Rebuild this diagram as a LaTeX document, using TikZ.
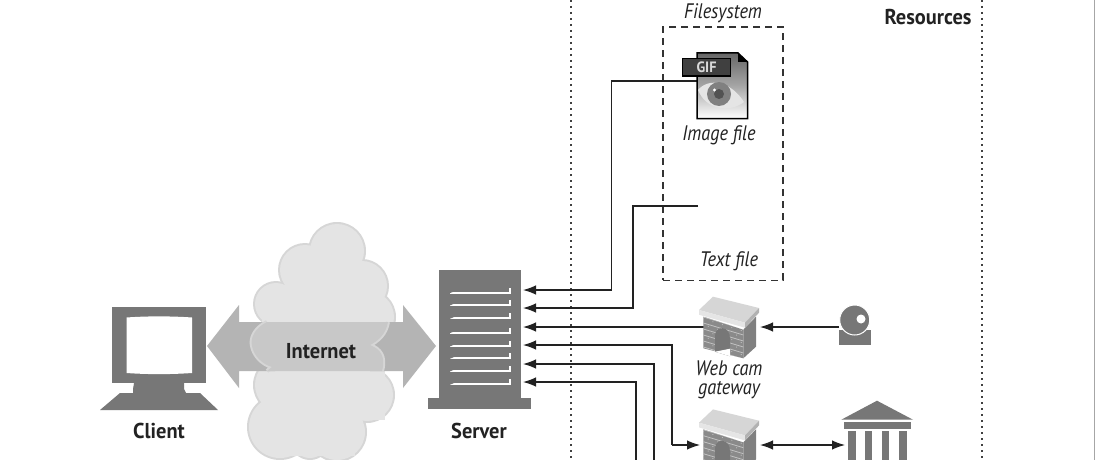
\documentclass[tikz,border=0pt]{standalone}
\usepackage{fontspec}
\setmainfont[FakeStretch=0.87,BoldFeatures={FakeStretch=0.95}]{PT Sans}
\usetikzlibrary{arrows.meta,shapes.geometric}
\definecolor{ink}{HTML}{222222}
\definecolor{iconGrey}{HTML}{777777}
\definecolor{cloudFill}{HTML}{E4E4E4}
\definecolor{cloudRim}{HTML}{D6D6D6}
\definecolor{bandFill}{HTML}{C8C8C8}
\definecolor{fatArrow}{HTML}{B4B4B4}
\tikzset{
  lbl/.style={text=ink,font=\fontsize{21.5}{22}\selectfont\bfseries,inner sep=0pt},
  captxt/.style={text=ink,font=\fontsize{21}{19}\selectfont\itshape,inner sep=0pt,align=center},
  wire/.style={draw=ink,line width=1.25pt},
  tipped/.style={wire,-{Latex[length=13pt,width=9.5pt]}},
  bothtipped/.style={wire,{Latex[length=13pt,width=9.5pt]}-{Latex[length=13pt,width=9.5pt]}},
  dotline/.style={draw=black!75,line width=2pt,dash pattern=on 2.2pt off 3.8pt},
  slotline/.style={draw=white,line width=2.2pt},
  gateway/.pic={
    \fill[black!46] (4.3,20) -- (44.3,33) -- (44.3,61.6) -- (4.3,51.6) -- cycle;
    \fill[black!50] (44.3,33) -- (57,20) -- (57,50) -- (44.3,61.6) -- cycle;
    \begin{scope}
      \clip (4.3,20) -- (44.3,33) -- (44.3,61.6) -- (4.3,51.6) -- cycle;
      \foreach \k in {0,...,7} {
        \draw[black!24,line width=.8pt] (0,{19+6*\k}) -- (50,{34+6*\k});
      }
      \foreach \k in {0,2,4,6} {
        \draw[black!24,line width=.8pt,dash pattern=on .9pt off 9pt] (4,{22+6*\k}) -- (46,{35+6*\k});
      }
      \foreach \k in {1,3,5} {
        \draw[black!24,line width=.8pt,dash pattern=on .9pt off 9pt,dash phase=-5pt] (4,{22+6*\k}) -- (46,{35+6*\k});
      }
    \end{scope}
    \fill[iconGrey] (16,55) -- (16,39) .. controls (16,33) and (21,31) .. (24,31.5) .. controls (28,32) and (31,36) .. (31,42) -- (31,59.5) -- cycle;
    \fill[white] (16,55) -- (31,59.5) -- (31,52) -- cycle;
    \fill[black!16] (0,13.3) -- (14,0) -- (60,11.3) -- (46,26) -- cycle;
    \fill[black!10] (0,13.3) -- (46,26) -- (46,31) -- (0,18) -- cycle;
    \fill[black!30] (46,26) -- (60,11.3) -- (60,16) -- (46,31) -- cycle;
  }
}
\begin{document}
\begin{tikzpicture}[x=1pt,y=-1pt]
\useasboundingbox (0,0) rectangle (1100,460);
\clip (0,0) rectangle (1100,460);
\fill[white] (0,0) rectangle (1100,460);

% separators
\coordinate (sepAtop) at (570.5,0); \coordinate (sepAbot) at (570.5,460);
\coordinate (sepBtop) at (982,0);   \coordinate (sepBbot) at (982,460);
\coordinate (edgeTop) at (1094.3,0); \coordinate (edgeBot) at (1094.3,460);
\draw[dotline] (sepAtop) -- (sepAbot);
\draw[dotline] (sepBtop) -- (sepBbot);
\draw[black!35,line width=1.6pt] (edgeTop) -- (edgeBot);

% cloud
\foreach \cx/\cy/\r in {337/251/29,305/270/27,362/286/27,368/317/28,276/304/23,282/385/29,280/427/33,367/395/28,337/432/30,310/440/20} {
  \fill[cloudRim] (\cx,\cy) circle ({\r});
}
\foreach \cx/\cy/\r in {337/251/29,305/270/27,362/286/27,368/317/28,276/304/23,282/385/29,280/427/33,367/395/28,337/432/30,310/440/20} {
  \fill[cloudFill] (\cx,\cy) circle ({\r-2});
}
\fill[cloudFill] (285,255) rectangle (355,456);
\fill[cloudFill] (262,300) rectangle (385,420);

% fat arrows
\fill[fatArrow] (207,346) -- (239,305) -- (239,322) -- (275,322) -- (275,371) -- (239,371) -- (239,388) -- cycle;
\fill[fatArrow] (436,346) -- (403,305) -- (403,322) -- (370,322) -- (370,371) -- (403,371) -- (403,388) -- cycle;

% band
\draw[cloudRim,line width=4pt] (267,322) .. controls (255,328) and (250,338) .. (252,346) .. controls (254,356) and (262,364) .. (272,367) -- (267,371);
\draw[cloudRim,line width=4pt] (388,322) .. controls (386,334) and (378,341) .. (370,345) .. controls (380,349) and (386,356) .. (382,371);
\fill[bandFill] (267,322) .. controls (255,328) and (250,338) .. (252,346) .. controls (254,356) and (262,364) .. (272,367) -- (267,371) -- (382,371) .. controls (386,356) and (380,349) .. (370,345) .. controls (378,341) and (386,334) .. (388,322) -- cycle;
\node[lbl] (internet) at (321,351) {Internet};

% client
\fill[iconGrey] (100,410) -- (120,393) -- (133,393) -- (133,389) -- (134,383) -- (184,383) -- (184,389) -- (186,393) -- (200,393) -- (218,410) -- cycle;
\node[fill=iconGrey,minimum width=94pt,minimum height=76pt,inner sep=0pt] (client) at (159,345) {};
\fill[white] (126.5,317.5) .. controls (148,316) and (170,316) .. (192,317.5) -- (192,373) .. controls (170,374.5) and (148,374.5) .. (126.5,373) -- cycle;
\node[lbl] (clientlabel) at (159,431) {Client};

% server
\node[fill=iconGrey,minimum width=103pt,minimum height=11pt,inner sep=0pt] (serverbase) at (479.5,403.5) {};
\node[fill=iconGrey,minimum width=82pt,minimum height=130pt,inner sep=0pt] (server) at (479.7,335) {};
\foreach \sy in {292.7,305,318.3,332.7,346,358.3,371,384.3} {
  \draw[slotline] (450,\sy) -- (510,\sy) -- (510,\sy-5);
  \fill[iconGrey] (448,\sy-1.3) -- (454,\sy-1.3) -- (448,\sy+1.3) -- cycle;
}
\node[lbl] (serverlabel) at (479,431) {Server};

% filesystem
\node[draw=black!80,line width=1.4pt,dash pattern=on 7pt off 5pt,minimum width=120pt,minimum height=253pt,inner sep=0pt] (fsbox) at (723,153.7) {};
\node[captxt] (fslabel) at (723,13) {Filesystem};
\node[lbl] (reslabel) at (928,17) {Resources};

% GIF file icon
\coordinate (gifEnd) at (697,81);
\coordinate (gifTurn) at (611.7,81);
\coordinate (srvA) at (523,290);
\coordinate (srvATurn) at (611.7,290);
\draw[tipped] (gifEnd) -- (gifTurn) -- (srvATurn) -- (srvA);
\shade[top color=black!60,bottom color=white,middle color=black!35] (697,53) -- (738,53) -- (747.5,62) -- (747.5,118.5) -- (697,118.5) -- cycle;
\fill[black!10] (698,90) .. controls (708,78) and (730,80) .. (744,102) .. controls (730,113) and (706,110) .. (698,90) -- cycle;
\fill[black!50] (719,94) circle (12);
\fill[black!68] (719,94) circle (5);
\fill[white] (714.5,90) circle (1.6);
\draw[black,line width=1.5pt] (697,53) -- (738,53) -- (747.5,62) -- (747.5,118.5) -- (697,118.5) -- cycle;
\fill[black] (738,53) -- (747.5,62) -- (738,62) -- cycle;
\node[fill=black!75,draw=black,line width=1.4pt,text=black!15,inner sep=0pt,minimum width=48pt,minimum height=17pt,font=\fontsize{15}{15}\selectfont\bfseries] (gif) at (706.5,67.3) {GIF};
\node[captxt] (imglabel) at (719,135) {Image file};

% text file
\coordinate (txtEnd) at (698,206);
\coordinate (txtTurn) at (633,206);
\coordinate (srvB) at (523,308);
\coordinate (srvBTurn) at (633,308);
\draw[tipped] (txtEnd) -- (txtTurn) -- (srvBTurn) -- (srvB);
\node[captxt] (txtlabel) at (729,261) {Text file};

% web cam gateway
\coordinate (srvC) at (523,327);
\coordinate (gwAleft) at (704,327);
\coordinate (gwAright) at (760,327);
\draw[tipped] (gwAleft) -- (srvC);
\pic at (699,296.7) {gateway};
\node[captxt] (wclabel) at (729,380) {Web cam\\gateway};

% web cam
\node[fill=iconGrey,minimum width=32pt,minimum height=14.5pt,inner sep=0pt] (cambase) at (855,337.3) {};
\node[circle,fill=iconGrey,draw=white,line width=1pt,minimum size=30pt,inner sep=0pt] (cam) at (854.7,320) {};
\fill[white] (861,319) circle (4.5);
\coordinate (camwire) at (839,327);
\draw[tipped] (camwire) -- (gwAright);

% second gateway
\coordinate (srvD) at (523,345);
\coordinate (srvDTurn) at (672,345);
\coordinate (gwBTurn) at (672,445);
\coordinate (gwBleft) at (700,445);
\coordinate (gwBright) at (760,445);
\coordinate (bankwire) at (845,445);
\draw[tipped] (gwBTurn) -- (gwBleft);
\draw[tipped] (gwBTurn) -- (srvDTurn) -- (srvD);
\pic at (699,409.4) {gateway};
\draw[bothtipped] (gwBright) -- (bankwire);

% other wires running off the page
\coordinate (srvE) at (523,364);
\coordinate (srvETurn) at (654,364);
\coordinate (offE) at (654,462);
\coordinate (srvF) at (523,382);
\coordinate (srvFTurn) at (636,382);
\coordinate (offF) at (636,462);
\draw[tipped] (offE) -- (srvETurn) -- (srvE);
\draw[tipped] (offF) -- (srvFTurn) -- (srvF);

% bank building
\fill[iconGrey] (877,400.7) -- (913,419.7) -- (841.3,419.7) -- cycle;
\fill[iconGrey] (844,421.7) rectangle (910.6,429);
\foreach \colx in {848.3,865,882,899.2} {
  \fill[iconGrey] (\colx,431) rectangle (\colx+7.4,462);
}
\end{tikzpicture}
\end{document}
